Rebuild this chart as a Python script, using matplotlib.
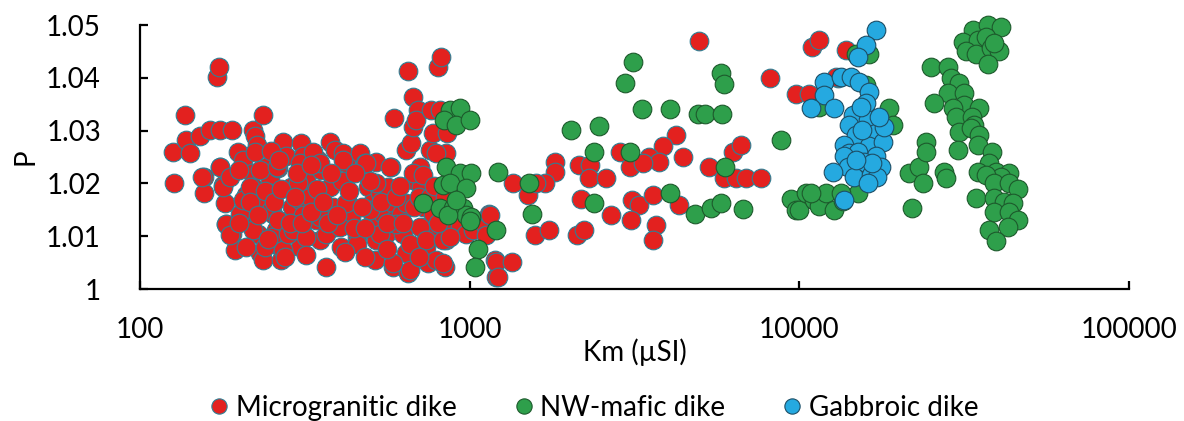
import matplotlib
matplotlib.use("Agg")
import matplotlib.pyplot as plt
from matplotlib.lines import Line2D

plt.rcParams['font.family'] = ['Lato', 'DejaVu Sans']

# --- data: (Km in uSI, P) ---
red_pts = [
    (126, 1.026), (127, 1.0201), (137, 1.033), (138, 1.0282), (142, 1.0257), (152, 1.029),
    (156, 1.0213), (156, 1.0182), (163, 1.0301), (175, 1.0301), (190, 1.0301), (171, 1.0402),
    (174, 1.0421), (175, 1.0232), (179, 1.0197), (181, 1.0162), (183, 1.0124), (190, 1.0105),
    (194, 1.0074), (199, 1.026), (206, 1.0244), (210, 1.0178), (208, 1.0143), (218, 1.0219),
    (220, 1.0194), (226, 1.0162), (228, 1.0105), (231, 1.0068), (236, 1.0055), (220, 1.0301),
    (223, 1.0289), (226, 1.0273), (236, 1.033), (242, 1.0232), (248, 1.0206), (248, 1.0181),
    (254, 1.0143), (259, 1.0112), (266, 1.008), (267, 1.0055), (262, 1.0229), (272, 1.0279),
    (278, 1.0251), (288, 1.0194), (290, 1.0156), (298, 1.0105), (305, 1.008), (309, 1.0276),
    (312, 1.0251), (320, 1.0206), (335, 1.0169), (343, 1.0131), (351, 1.0093), (368, 1.0042),
    (347, 1.0244), (353, 1.0225), (377, 1.0194), (385, 1.0156), (394, 1.0118), (408, 1.008),
    (377, 1.0279), (390, 1.0263), (413, 1.0257), (423, 1.0238), (427, 1.0162), (438, 1.0137),
    (454, 1.0099), (464, 1.0257), (481, 1.0238), (492, 1.0194), (504, 1.0162), (509, 1.0131),
    (521, 1.0093), (515, 1.0055), (521, 1.0241), (533, 1.0181), (546, 1.0143), (559, 1.0105),
    (565, 1.0194), (579, 1.0232), (585, 1.0162), (591, 1.0131), (585, 1.0042), (591, 1.0323),
    (621, 1.0143), (628, 1.0105), (643, 1.0068), (650, 1.003), (643, 1.0263), (650, 1.0412),
    (666, 1.0276), (673, 1.0307), (673, 1.0206), (673, 1.0364), (697, 1.0339), (690, 1.032),
    (705, 1.0232), (713, 1.0194), (722, 1.0156), (730, 1.0118), (739, 1.008), (747, 1.0049),
    (756, 1.0263), (765, 1.0339), (774, 1.0295), (774, 1.0143), (783, 1.0105), (792, 1.0055),
    (801, 1.0421), (820, 1.044), (811, 1.0339), (840, 1.0042), (850, 1.0257), (850, 1.0093),
    (855, 1.0295), (880, 1.0112), (933, 1.0118), (977, 1.0105), (1023, 1.0112), (1124, 1.0118),
    (1149, 1.0143), (1191, 1.0055), (1205, 1.0023),
    (154, 1.0213), (175, 1.0232), (179, 1.0194), (187, 1.0213), (183, 1.0124), (187, 1.0102),
    (201, 1.0143), (206, 1.0169), (215, 1.0194), (220, 1.0112), (210, 1.008), (231, 1.0225),
    (236, 1.0169), (239, 1.008), (250, 1.015), (251, 1.0099), (260, 1.0232), (262, 1.0131),
    (272, 1.0074), (281, 1.0105), (292, 1.0112), (302, 1.02), (305, 1.0169), (313, 1.014),
    (320, 1.0099), (327, 1.0175), (305, 1.0238), (223, 1.026), (250, 1.0262), (335, 1.026),
    (351, 1.0238), (413, 1.0244), (423, 1.0162), (351, 1.0137), (368, 1.0105), (404, 1.0118),
    (454, 1.0086), (486, 1.0238), (498, 1.015), (521, 1.02), (533, 1.0105), (573, 1.0232),
    (586, 1.0049), (600, 1.0124), (643, 1.0162), (658, 1.0086), (658, 1.0036), (673, 1.0219),
    (705, 1.0118), (739, 1.0093), (792, 1.0257), (830, 1.0049), (830, 1.0093), (869, 1.0099),
    (200, 1.0225), (215, 1.0165), (228, 1.014), (240, 1.0185), (255, 1.0165), (268, 1.019),
    (285, 1.0125), (295, 1.0175), (310, 1.0125), (330, 1.0145), (345, 1.019), (360, 1.0165),
    (372, 1.0125), (395, 1.014), (410, 1.0205), (430, 1.0185), (445, 1.0115), (470, 1.0155),
    (480, 1.0115), (500, 1.0205), (540, 1.0165), (560, 1.0125), (600, 1.0175), (615, 1.0195),
    (630, 1.0125), (680, 1.0155), (700, 1.0175), (720, 1.0215), (760, 1.0175), (780, 1.0195),
    (800, 1.0125), (820, 1.0155), (840, 1.0175), (300, 1.022), (265, 1.0245), (330, 1.0235),
    (380, 1.022), (450, 1.022), (200, 1.0125), (245, 1.0095), (275, 1.006), (320, 1.0065),
    (420, 1.007), (480, 1.006), (560, 1.0075), (700, 1.006),
    (4977, 1.047), (10965, 1.0459), (11510, 1.0472), (13830, 1.0453), (8147, 1.0399),
    (9772, 1.0369), (10715, 1.0369), (13060, 1.0399), (12910, 1.0402), (4227, 1.0292),
    (3855, 1.027), (4426, 1.025), (2851, 1.026), (3055, 1.0232), (3508, 1.025), (3767, 1.0241),
    (3350, 1.0238), (2153, 1.0235), (2311, 1.0235), (2309, 1.021), (2596, 1.021), (1811, 1.0241),
    (1811, 1.0222), (1688, 1.02), (1503, 1.0178), (1352, 1.02), (1592, 1.02), (2174, 1.017),
    (2679, 1.014), (3112, 1.0169), (3273, 1.0159), (3597, 1.0178), (4326, 1.0159), (3090, 1.0131),
    (3681, 1.0121), (3597, 1.0093), (1574, 1.0102), (1746, 1.0112), (2123, 1.0102), (2223, 1.0112),
    (1151, 1.014), (1124, 1.0102), (1205, 1.0052), (1340, 1.0052), (1219, 1.0023),
    (5333, 1.0232), (5929, 1.021), (6427, 1.021), (6887, 1.021), (7640, 1.021),
    (6281, 1.026), (6637, 1.0273),
]

green_pts = [
    (869, 1.0339), (933, 1.0342), (839, 1.032), (912, 1.0311), (1000, 1.032),
    (850, 1.0232), (933, 1.0219), (1012, 1.0219), (830, 1.0197), (869, 1.02), (977, 1.0191),
    (722, 1.0162), (811, 1.0153), (889, 1.0153), (955, 1.0153), (977, 1.014), (1012, 1.0137),
    (860, 1.014), (910, 1.0169), (1000, 1.0128), (1060, 1.0075), (1040, 1.0042),
    (1205, 1.0112), (1219, 1.0222),
    (3126, 1.043), (2965, 1.039), (3331, 1.034), (4055, 1.034), (4931, 1.0331), (5164, 1.0331),
    (5821, 1.0331), (5797, 1.041), (5902, 1.0388), (2032, 1.0301), (2465, 1.0309), (2377, 1.026),
    (3069, 1.026), (1510, 1.0201), (1546, 1.0143), (2389, 1.0162), (4055, 1.0182),
    (4842, 1.0143), (5408, 1.0153), (5797, 1.0162), (6729, 1.0151), (5957, 1.0232),
    (8790, 1.0282), (9462, 1.017), (9796, 1.015),
    (10000, 1.015), (10470, 1.0181), (11090, 1.0169), (11500, 1.0157), (12050, 1.0181),
    (12760, 1.015), (13530, 1.0166), (15030, 1.0181), (13370, 1.0182), (10840, 1.0182),
    (14850, 1.0446), (16300, 1.0446), (15900, 1.0386), (11500, 1.0345), (15900, 1.0219),
    (18750, 1.0342), (19190, 1.0311), (21540, 1.0219), (23100, 1.0232), (23650, 1.02),
    (22050, 1.0153), (24210, 1.0279), (24210, 1.026), (27540, 1.0222), (27870, 1.021),
    (33570, 1.049), (37240, 1.05), (40830, 1.0497), (31290, 1.0468), (34750, 1.0472),
    (36810, 1.0478), (31990, 1.045), (34350, 1.0446), (38110, 1.0456), (40360, 1.045),
    (37240, 1.0427), (39000, 1.0465),
    (25060, 1.0421), (28180, 1.0421), (28840, 1.0399), (30550, 1.039), (28180, 1.0371),
    (25650, 1.0352), (31620, 1.0371), (31620, 1.0348), (29170, 1.0342), (35160, 1.0342),
    (29850, 1.0326), (33500, 1.0326), (33960, 1.0311), (30550, 1.0298), (33100, 1.0304),
    (35160, 1.0292), (30200, 1.0263), (34750, 1.0273), (38550, 1.026), (37670, 1.0238),
    (34750, 1.0222), (39450, 1.0222), (43350, 1.0219), (40830, 1.0213), (36810, 1.0216),
    (39000, 1.02), (43350, 1.02), (45920, 1.019), (34350, 1.0172), (39000, 1.0172),
    (41780, 1.0165), (44360, 1.0162), (39000, 1.0146), (43350, 1.0146), (45920, 1.0131),
    (37670, 1.0112), (42850, 1.0118), (39450, 1.009),
]

blue_pts = [
    (17080, 1.049), (15920, 1.0462), (15030, 1.044), (11910, 1.0393), (11910, 1.0367),
    (10840, 1.0342), (12760, 1.0342), (13370, 1.0402), (14350, 1.0402), (15200, 1.0393),
    (16300, 1.0374), (15920, 1.0352), (14520, 1.033), (16110, 1.032), (14190, 1.0311),
    (17080, 1.0295), (14850, 1.0292), (13680, 1.0273), (16300, 1.027), (17890, 1.0279),
    (14190, 1.0257), (15030, 1.026), (17080, 1.0251), (13680, 1.0251), (14030, 1.0232),
    (15720, 1.0241), (17640, 1.0232), (14690, 1.0213), (16500, 1.0216), (17240, 1.0213),
    (16110, 1.02), (12620, 1.0222), (13680, 1.0169), (18110, 1.0307), (17460, 1.0326),
    (15380, 1.0345), (15500, 1.0301), (16600, 1.0238), (14850, 1.0244),
]

series_names = ['Microgranitic dike', 'NW-mafic dike', 'Gabbroic dike']
x_ticks = [100, 1000, 10000, 100000]
y_ticks = [1.0, 1.01, 1.02, 1.03, 1.04, 1.05]
y_ticklabels = ['1', '1.01', '1.02', '1.03', '1.04', '1.05']

fills = ['#E3211F', '#2E9F4B', '#25A9E0']
edges = ['#2f7f94', '#1d5a2c', '#1d4e66']

fig = plt.figure(figsize=(11.84, 4.21), dpi=100)
ax = fig.add_axes([0.1182, 0.3135, 0.8353, 0.6271])

for pts, fc, ec in zip([red_pts, green_pts, blue_pts], fills, edges):
    km, p = zip(*pts)
    ax.scatter(km, p, s=180, c=fc, edgecolors=ec, linewidths=0.8, clip_on=False, zorder=3)

ax.set_xscale('log')
ax.set_xlim(100, 100000)
ax.set_ylim(1.0, 1.05)
ax.set_xticks(x_ticks)
ax.set_xticklabels([str(t) for t in x_ticks])
ax.xaxis.set_minor_locator(matplotlib.ticker.NullLocator())
ax.set_yticks(y_ticks)
ax.set_yticklabels(y_ticklabels)

for s in ['top', 'right']:
    ax.spines[s].set_visible(False)
for s in ['left', 'bottom']:
    ax.spines[s].set_linewidth(1.6)
ax.tick_params(axis='both', direction='in', length=6, width=1.6, labelsize=20)
ax.tick_params(axis='x', pad=20)
ax.tick_params(axis='y', pad=28)

fig.text(0.536, 0.164, 'Km (µSI)', ha='center', va='center', fontsize=20)
ax.text(-0.116, 0.5, 'P', rotation=90, transform=ax.transAxes,
        ha='center', va='center', fontsize=20)

handles = [Line2D([], [], marker='o', ls='', markersize=11, markerfacecolor=fc,
                  markeredgecolor=ec, markeredgewidth=0.8) for fc, ec in zip(fills, edges)]
fig.legend(handles, series_names, loc='center', bbox_to_anchor=(0.5, 0.031), ncol=3,
           frameon=False, fontsize=20, handletextpad=0.1, columnspacing=1.9,
           handlelength=1.0)

fig.savefig('out.png', dpi=100)
